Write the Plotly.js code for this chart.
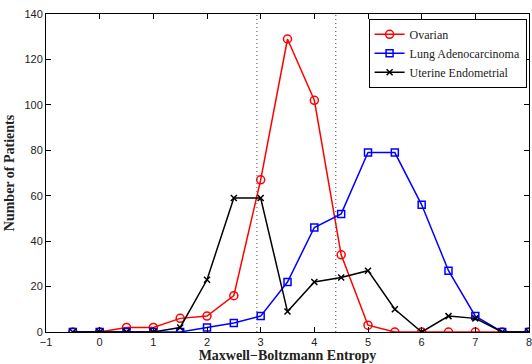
<!DOCTYPE html>
<html><head><meta charset="utf-8">
<script src="https://cdn.plot.ly/plotly-3.0.1.min.js"></script>
<style>html,body{margin:0;padding:0;background:#fff}#chart{width:532px;height:364px}</style>
</head><body><div id="chart"></div>
<script>
const entropy = [-0.5,0,0.5,1,1.5,2,2.5,3,3.5,4,4.5,5,5.5,6,6.5,7,7.5,8];
const ovarian = [0,0,2,2,6,7,16,67,129,102,34,3,0,0,0,0,0,0];
const lung    = [0,0,0,0,0,2,4,7,22,46,52,79,79,56,27,7,0,0];
const uterine = [0,0,0,0,2,23,59,59,9,22,24,27,10,0,7,6,0,0];
const seriesNames = ["Ovarian","Lung Adenocarcinoma","Uterine Endometrial"];
const dottedLines = [2.93, 4.40];
const xTicks = [-1,0,1,2,3,4,5,6,7,8];
const yTicks = [0,20,40,60,80,100,120,140];

const traces = [
  {x: entropy, y: ovarian, name: seriesNames[0], mode:'lines+markers',
   line:{color:'#ff0000', width:1.5}, marker:{symbol:'circle-open', size:8, color:'#ff0000', line:{width:1.5}}},
  {x: entropy, y: lung, name: seriesNames[1], mode:'lines+markers',
   line:{color:'#0000ff', width:1.5}, marker:{symbol:'square-open', size:7, color:'#0000ff', line:{width:1.5}}},
  {x: entropy, y: uterine, name: seriesNames[2], mode:'lines+markers',
   line:{color:'#000000', width:1.5}, marker:{symbol:'x-thin-open', size:6, color:'#000000', line:{width:1.5}}}
];

const shapes = dottedLines.map(v => ({type:'line', xref:'x', yref:'paper', x0:v, x1:v, y0:0, y1:1,
  line:{color:'#444', width:1, dash:'1px,3px'}}));

const axisCommon = {showgrid:false, zeroline:false, showline:true, linecolor:'#000', linewidth:1,
  mirror:'ticks', ticks:'inside', ticklen:5, tickcolor:'#000', ticklabeloverflow:'allow',
  tickfont:{family:'Liberation Sans, Arial, sans-serif', size:11, color:'#222'}};

const layout = {
  width:532, height:364,
  margin:{l:46, r:3, t:14, b:32},
  paper_bgcolor:'#fff', plot_bgcolor:'#fff',
  showlegend:true,
  legend:{x:0.995, y:0.985, xanchor:'right', yanchor:'top', bgcolor:'#fff', bordercolor:'#000', borderwidth:1,
    font:{family:'Liberation Serif, Times New Roman, serif', size:12, color:'#222'},
    tracegroupgap:0, itemwidth:30},
  xaxis: Object.assign({}, axisCommon, {range:[-1,8], tickvals:xTicks,
    title:{text:'<b>Maxwell\u2212Boltzmann Entropy</b>', standoff:2,
      font:{family:'Liberation Serif, Times New Roman, serif', size:14, color:'#222'}}}),
  yaxis: Object.assign({}, axisCommon, {range:[0,140], tickvals:yTicks,
    title:{text:'<b>Number of Patients</b>', standoff:6,
      font:{family:'Liberation Serif, Times New Roman, serif', size:14, color:'#222'}}}),
  shapes: shapes
};

Plotly.newPlot('chart', traces, layout, {displayModeBar:false, staticPlot:true});
</script></body></html>
